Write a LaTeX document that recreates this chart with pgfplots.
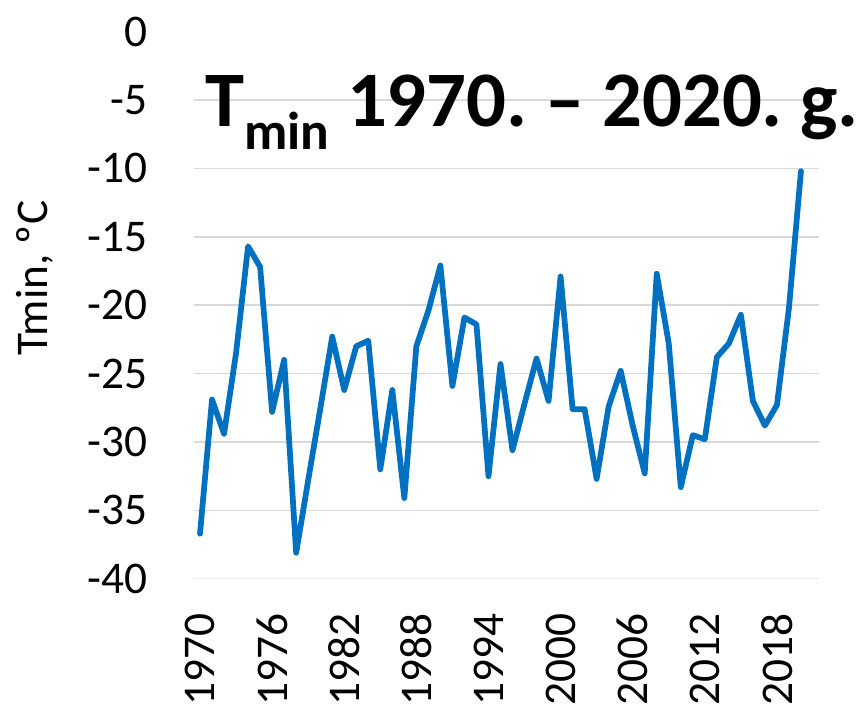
\documentclass[border=0pt]{standalone}
\usepackage{fontspec}
\setmainfont{Carlito}
\usepackage{pgfplots}
\pgfplotsset{compat=1.18}
\definecolor{xlblue}{HTML}{0070C0}
\definecolor{xlgrid}{HTML}{D9D9D9}
\frenchspacing

\pgfplotstableread{
year tmin
1970 -36.7
1971 -26.9
1972 -29.4
1973 -23.5
1974 -15.7
1975 -17.2
1976 -27.8
1977 -24.0
1978 -38.1
1979 -32.8
1980 -27.6
1981 -22.3
1982 -26.2
1983 -23.0
1984 -22.6
1985 -32.0
1986 -26.2
1987 -34.1
1988 -23.0
1989 -20.4
1990 -17.1
1991 -25.9
1992 -20.9
1993 -21.4
1994 -32.5
1995 -24.3
1996 -30.6
1997 -27.2
1998 -23.9
1999 -27.0
2000 -17.9
2001 -27.6
2002 -27.6
2003 -32.7
2004 -27.4
2005 -24.8
2006 -28.8
2007 -32.3
2008 -17.7
2009 -22.8
2010 -33.3
2011 -29.5
2012 -29.8
2013 -23.8
2014 -22.8
2015 -20.7
2016 -27.0
2017 -28.8
2018 -27.3
2019 -20.2
2020 -10.2
}\tmindata

\begin{document}
\begin{tikzpicture}
\begin{axis}[
  anchor=south west, at={(0,0)},
  scale only axis, width=468.75pt, height=410.4pt,
  xmin=1969.5, xmax=2021.5, ymin=-40, ymax=0,
  axis x line*=bottom, axis y line*=left,
  x axis line style={draw=black!8, line width=1pt, -},
  y axis line style={draw=none, -},
  major tick length=0pt,
  xtick={1970,1976,...,2018},
  xticklabels={1970,1976,1982,1988,1994,2000,2006,2012,2018},
  xticklabel style={font=\fontsize{34}{34}\selectfont, inner sep=0pt, yshift=-26pt, rotate=90, anchor=east},
  ytick={-35,-30,...,-5},
  yticklabels={-35,-30,-25,-20,-15,-10,-5},
  extra y ticks={-40,0},
  extra y tick labels={-40,0},
  extra y tick style={grid=none},
  ymajorgrids, major grid style={draw=xlgrid, line width=1.2pt},
  yticklabel style={font=\fontsize{34}{34}\selectfont, inner sep=0pt, xshift=-34.5pt, anchor=east},
  ylabel={Tmin, ºC},
  ylabel style={font=\fontsize{34}{34}\selectfont, at={(axis description cs:-0.2544,0.5497)}, rotate=0, anchor=center},
  clip=false,
]
\addplot[xlblue, line width=4.3pt, line join=round, line cap=round] table[x=year, y=tmin] {\tmindata};
\node[anchor=base west, inner sep=0pt, font=\fontsize{59}{59}\selectfont\bfseries]
  at (rel axis cs:0.0176,0.8257) {T\raisebox{-17pt}{\fontsize{40}{40}\selectfont min} 1970. – 2020. g.};
\end{axis}
\pgfresetboundingbox
\useasboundingbox (-145.5pt,-96.1pt) rectangle (504pt,434.1pt);
\end{tikzpicture}
\end{document}
